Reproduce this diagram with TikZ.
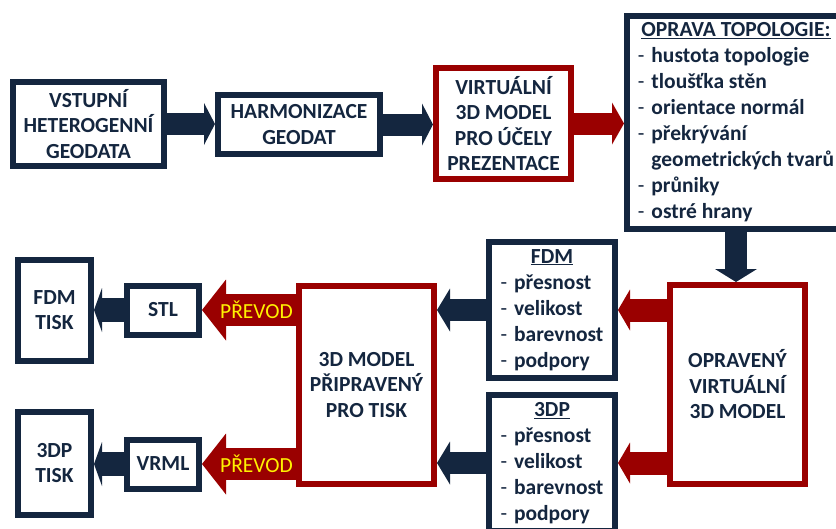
\documentclass[tikz,border=0pt]{standalone}
\usepackage{fontspec}
\setmainfont{Carlito}
\usetikzlibrary{arrows.meta,calc}
\definecolor{navy}{HTML}{14263F}
\definecolor{darkred}{HTML}{9A0000}
\definecolor{prevodyellow}{HTML}{FFF200}
\newcommand{\itm}[1]{\makebox[13.5pt][l]{\mdseries -}#1}
\tikzset{
    box/.style = {draw=navy, line width=6pt, fill=white, text=navy,
        font=\fontsize{21.5}{25.5}\selectfont\bfseries, align=center,
        inner sep=0pt, outer sep=3pt},
    redbox/.style = {box, draw=darkred},
    listbox/.style = {box, font=\fontsize{21.5}{26}\selectfont\bfseries},
    flow/.style n args = {4}{draw=#1, line width=#2,
        -{Triangle[length=#3,width=#4,line width=0pt]}},
    prevod/.style = {text=prevodyellow, font=\fontsize{21.5}{25}\selectfont}
}

\begin{document}
\begin{tikzpicture}[x=1pt,y=-1pt]
    \useasboundingbox (0,0) rectangle (836,528);
    \clip (0,0) rectangle (836,528);
    % top row
    \node[box, minimum width=151pt, minimum height=84pt] (vstup) at (88.5,124) {VSTUPNÍ\\HETEROGENNÍ\\GEODATA};
    \node[box, minimum width=162pt, minimum height=59pt] (harm) at (299,124.5) {HARMONIZACE\\GEODAT};
    \node[redbox, minimum width=135pt, minimum height=111pt] (virt) at (503.5,123.5) {VIRTUÁLNÍ\\3D MODEL\\PRO ÚČELY\\PREZENTACE};
    \node[listbox, minimum width=218pt, minimum height=213pt] (oprava) at (736,122.5) {\begin{tabular}{@{}l@{}}
        \multicolumn{1}{@{}c@{}}{\underline{OPRAVA TOPOLOGIE:}}\\
        \itm{hustota topologie}\\
        \itm{tloušťka stěn}\\
        \itm{orientace normál}\\
        \itm{překrývání}\\
        \hspace*{13.5pt}geometrických tvarů\\
        \itm{průniky}\\
        \itm{ostré hrany}
    \end{tabular}};
    % right column
    \node[redbox, minimum width=135pt, minimum height=199pt] (opr) at (737.5,384.5) {OPRAVENÝ\\VIRTUÁLNÍ\\3D MODEL};
    \node[listbox, minimum width=126pt, minimum height=136pt] (fdm) at (552,310) {\begin{tabular}{@{}l@{}}
        \multicolumn{1}{@{}c@{}}{\underline{FDM}}\\
        \itm{přesnost}\\ \itm{velikost}\\ \itm{barevnost}\\ \itm{podpory}
    \end{tabular}};
    \node[listbox, minimum width=126pt, minimum height=136pt] (tdp) at (552,463) {\begin{tabular}{@{}l@{}}
        \multicolumn{1}{@{}c@{}}{\underline{3DP}}\\
        \itm{přesnost}\\ \itm{velikost}\\ \itm{barevnost}\\ \itm{podpory}
    \end{tabular}};
    % left part
    \node[redbox, minimum width=135pt, minimum height=198pt] (model) at (366.5,385) {3D MODEL\\PŘIPRAVENÝ\\PRO TISK};
    \node[box, minimum width=72pt, minimum height=49pt] (stl) at (163,310) {STL};
    \node[box, minimum width=72pt, minimum height=49pt] (vrml) at (163,464) {VRML};
    \node[box, minimum width=73pt, minimum height=101pt] (fdmtisk) at (54.5,310) {FDM\\TISK};
    \node[box, minimum width=73pt, minimum height=103pt] (tdptisk) at (54.5,463) {3DP\\TISK};
    % arrows
    \draw[flow={navy}{22pt}{11pt}{42pt}] (vstup.east) -- (vstup.east -| harm.west);
    \draw[flow={navy}{22pt}{11pt}{42pt}] (harm.east) -- (harm.east -| virt.west);
    \draw[flow={darkred}{22pt}{12pt}{42pt}] (virt.east) -- (virt.east -| oprava.west);
    \draw[flow={navy}{22pt}{13pt}{42pt}] (oprava.south) -- (oprava.south |- opr.north);
    \draw[flow={darkred}{23pt}{12pt}{41pt}] (opr.west |- fdm) -- (fdm.east);
    \draw[flow={darkred}{23pt}{12pt}{41pt}] (opr.west |- tdp) -- (tdp.east);
    \draw[flow={navy}{22pt}{13pt}{43pt}] (fdm.west) -- (fdm.west -| model.east);
    \draw[flow={navy}{22pt}{13pt}{43pt}] (tdp.west) -- (tdp.west -| model.east);
    \draw[flow={darkred}{32pt}{24pt}{61pt}] (model.west |- stl) -- node[prevod, pos=.42] (p1) {PŘEVOD} (stl.east);
    \draw[flow={darkred}{32pt}{24pt}{61pt}] (model.west |- vrml) -- node[prevod, pos=.42] (p2) {PŘEVOD} (vrml.east);
    \draw[flow={navy}{24pt}{8pt}{44pt}] (stl.west) -- (stl.west -| fdmtisk.east);
    \draw[flow={navy}{24pt}{8pt}{44pt}] (vrml.west) -- (vrml.west -| tdptisk.east);
\end{tikzpicture}
\end{document}
